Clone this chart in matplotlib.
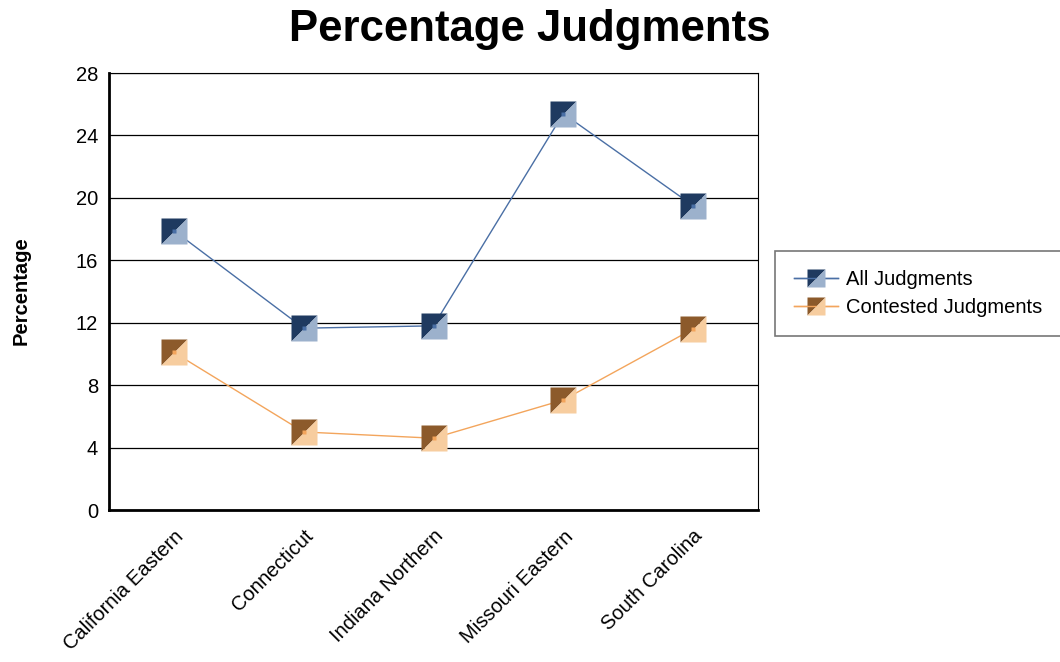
import matplotlib
matplotlib.use("Agg")
import matplotlib.pyplot as plt
from matplotlib.path import Path
from matplotlib.lines import Line2D
from matplotlib.legend_handler import HandlerTuple

plt.rcParams['font.family'] = ['Liberation Sans', 'DejaVu Sans']

categories = ["California Eastern", "Connecticut", "Indiana Northern", "Missouri Eastern", "South Carolina"]
all_judgments = [17.9, 11.65, 11.8, 25.4, 19.5]
contested_judgments = [10.1, 5.0, 4.6, 7.05, 11.6]
yticks = [0, 4, 8, 12, 16, 20, 24, 28]

series = [
    ("All Judgments", all_judgments, "#4a6fa5", "#1f3a60", "#9cb1cc"),
    ("Contested Judgments", contested_judgments, "#f3a55c", "#8c5a2b", "#f7cd9f"),
]

upper_left = Path([(-1, -1), (-1, 1), (1, 1), (-1, -1)], [Path.MOVETO, Path.LINETO, Path.LINETO, Path.CLOSEPOLY])
lower_right = Path([(-1, -1), (1, -1), (1, 1), (-1, -1)], [Path.MOVETO, Path.LINETO, Path.LINETO, Path.CLOSEPOLY])

fig = plt.figure(figsize=(10.6, 6.62), dpi=100)
ax = fig.add_axes([109/1060, 1-510/662, (758-109)/1060, (510-73)/662])

x = list(range(len(categories)))
handles = []
for name, vals, lc, dark, light in series:
    ax.plot(x, vals, color=lc, lw=1, zorder=3)
    ax.plot(x, vals, ls='none', marker=upper_left, ms=19, mfc=dark, mec='none', zorder=4)
    ax.plot(x, vals, ls='none', marker=lower_right, ms=19, mfc=light, mec='none', zorder=4)
    ax.plot(x, vals, ls='none', marker='s', ms=2.5, mfc=lc, mec='none', zorder=5)
    h1 = Line2D([], [], color=lc, lw=1, marker=upper_left, ms=13, mfc=dark, mec='none')
    h2 = Line2D([], [], color=lc, lw=1, marker=lower_right, ms=13, mfc=light, mec='none')
    handles.append((h1, h2))

ax.set_xlim(-0.5, len(categories) - 0.5)
ax.set_ylim(0, 28)
ax.set_yticks(yticks)
ax.set_yticklabels([str(t) for t in yticks], fontsize=14.5)
ax.set_xticks(x)
ax.set_xticklabels(categories, rotation=45, ha='right', rotation_mode='anchor', fontsize=14.5)
ax.tick_params(axis='both', length=0, pad=8)
ax.tick_params(axis='x', pad=12)
ax.yaxis.grid(True, color='black', lw=0.9)
ax.set_axisbelow(True)
for s in ['top', 'right']:
    ax.spines[s].set_linewidth(0.8)
for s in ['left', 'bottom']:
    ax.spines[s].set_linewidth(2)

fig.text(21/1060, 1-291/662, "Percentage", fontsize=14.5, fontweight='bold', rotation=90, ha='center', va='center')
fig.text(0.5, 1-29/662, "Percentage Judgments", fontsize=31.5, fontweight='bold', ha='center', va='center')

leg = fig.legend(handles, [s[0] for s in series], handler_map={tuple: HandlerTuple(ndivide=1)},
                 loc='upper left', bbox_to_anchor=(775/1060, 1-251/662, 300/1060, 0.0001), mode='expand',
                 fontsize=14.5, frameon=True, fancybox=False, edgecolor='#555555', handlelength=2.2,
                 borderpad=0.95, labelspacing=0.45, handletextpad=0.4, borderaxespad=0)
leg.get_frame().set_linewidth(1.2)

fig.savefig("out.png", dpi=100)
